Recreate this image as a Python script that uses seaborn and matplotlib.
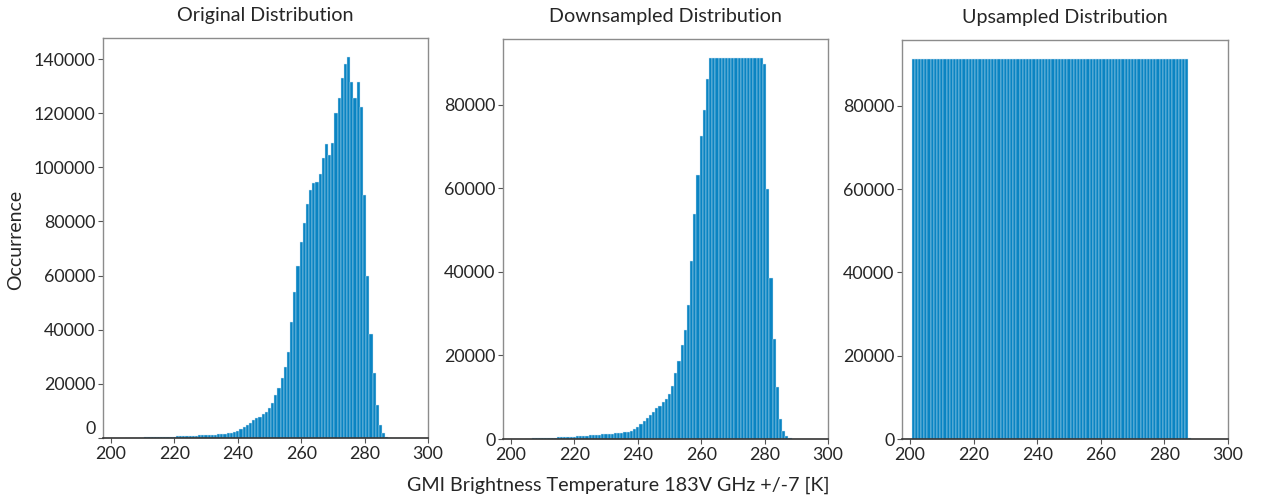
import numpy as np
import pandas as pd
import matplotlib
matplotlib.use("Agg")
import matplotlib.pyplot as plt
import matplotlib.transforms as mtrans
import seaborn as sns

# ---------------- data ----------------
titles = ["Original Distribution", "Downsampled Distribution", "Upsampled Distribution"]
x_label = "GMI Brightness Temperature 183V GHz +/-7 [K]"
y_label = "Occurrence"
x_ticks = [200, 220, 240, 260, 280, 300]

original_temps = list(range(205, 289))
original_counts = [
    60, 90, 120, 110, 140, 160, 190, 210, 240, 270,          # 205-214
    300, 330, 370, 410, 450, 500, 560, 620, 680, 740,        # 215-224
    800, 860, 920, 980, 1040, 1100, 1160, 1220, 1290, 1360,  # 225-234
    1450, 1580, 1750, 1980, 2300, 2750, 3350, 4150, 4900, 5680,  # 235-244
    6670, 7410, 7900, 8890, 9630, 11110, 12840, 15800, 18520, 22220,  # 245-254
    26180, 31860, 42720, 54080, 63460, 72600, 79260, 86420, 91610, 94080,  # 255-264
    94570, 97540, 103460, 108650, 104700, 108900, 120250, 125700, 133100, 138300,  # 265-274
    140750, 131600, 125440, 131360, 122230, 89880, 59760, 38520, 24200, 12350,  # 275-284
    4940, 1730, 500, 150,                                     # 285-288
]

downsampled_temps = list(range(205, 289))
downsampled_counts = [
    60, 100, 130, 150, 180, 220, 250, 280, 310, 340,         # 205-214
    370, 400, 440, 480, 520, 560, 620, 680, 740, 800,        # 215-224
    860, 920, 980, 1040, 1100, 1160, 1220, 1280, 1340, 1400,  # 225-234
    1480, 1600, 1760, 2000, 2320, 2800, 3520, 4320, 4960, 5760,  # 235-244
    6560, 7520, 8000, 8960, 9600, 10880, 12800, 15840, 18720, 22400,  # 245-254
    26080, 32000, 42720, 53920, 63120, 72560, 78880, 86240, 91200, 91200,  # 255-264
    91200, 91200, 91200, 91200, 91200, 91200, 91200, 91200, 91200, 91200,  # 265-274
    91200, 91200, 91200, 91200, 91200, 89760, 59840, 38560, 23840, 12480,  # 275-284
    4800, 1920, 640, 160,                                     # 285-288
]

upsampled_temps = list(range(201, 289))
upsampled_counts = [91200] * 87 + [300]                      # 201-287 flat, 288 tiny

# ---------------- style ----------------
sns.set_style("white")
plt.rcParams["font.family"] = ["Lato", "DejaVu Sans"]

BAR = "#0a84c3"
SPINE = "#8c8c8c"

W, H = 1267, 498
fig = plt.figure(figsize=(W / 100, H / 100), dpi=100)

boxes = [(103, 428, 38, 438), (503, 828, 39, 439), (902, 1228, 40, 439)]
series = [(original_temps, original_counts),
          (downsampled_temps, downsampled_counts),
          (upsampled_temps, upsampled_counts)]

axes = []
for (l, r, t, b), (temps, counts), title in zip(boxes, series, titles):
    ax = fig.add_axes([l / W, 1 - b / H, (r - l) / W, (b - t) / H])
    df = pd.DataFrame({"T": temps, "n": counts})
    sns.histplot(data=df, x="T", weights="n", discrete=True, ax=ax,
                 color=BAR, alpha=1.0, edgecolor="#cfe6f3", linewidth=0.3)
    ax.set_xlim(197.5, 300)
    ax.set_xticks(x_ticks)
    ax.set_xlabel("")
    ax.set_ylabel("")
    ax.set_title(title, fontsize=14.2, pad=12)
    ax.tick_params(axis="both", labelsize=12.9, length=3.5, width=0.8,
                   color="#555555", direction="out", pad=2,
                   bottom=True, left=True)
    for name, sp in ax.spines.items():
        sp.set_color(SPINE)
        sp.set_linewidth(1.0)
    ax.spines["bottom"].set_color("#333333")
    ax.spines["bottom"].set_linewidth(1.2)
    axes.append(ax)

# in the reference the "0" label of the first panel sits slightly above its tick
ax0 = axes[0]
ax0.set_yticks(ax0.get_yticks()[(ax0.get_yticks() >= 0) & (ax0.get_yticks() <= 148000)])
lab0 = ax0.yaxis.get_major_ticks()[0].label1
lab0.set_transform(lab0.get_transform() +
                   mtrans.ScaledTranslation(0, 10 / 100, fig.dpi_scale_trans))

fig.text(618 / W, 1 - 485 / H, x_label, ha="center", va="center", fontsize=14.2)
fig.text(16 / W, 1 - 240 / H, y_label, ha="center", va="center",
         rotation=90, fontsize=14)

fig.savefig("out.png", dpi=100)
